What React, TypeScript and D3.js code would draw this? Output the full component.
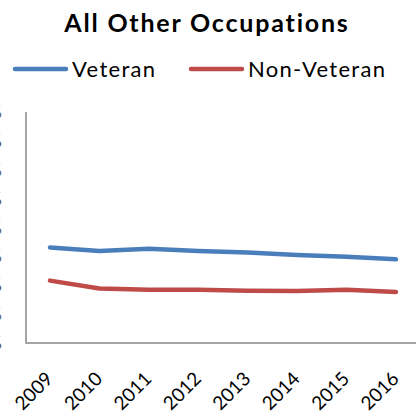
import * as d3 from 'd3';
import { useEffect, useRef } from 'react';

const years = ['2009', '2010', '2011', '2012', '2013', '2014', '2015', '2016'];
const veteran = [33.1, 31.9, 32.6, 31.9, 31.3, 30.5, 29.9, 29.0];
const nonVeteran = [21.6, 18.9, 18.4, 18.4, 18.1, 18.0, 18.4, 17.7];
const yTicks = [0, 10, 20, 30, 40, 50, 60, 70, 80];

const dimensions = {
  width: 416,
  height: 414,
};

const FONT = 'Lato, "Open Sans", sans-serif';

export default function App() {
  const svgRef = useRef(null);

  useEffect(() => {
    const svg = d3.select(svgRef.current);
    svg.selectAll('*').remove();

    const xScale = d3.scalePoint().domain(years).range([50, 396]);
    const yScale = d3.scaleLinear().domain([0, 80]).range([343, 112]);

    // Title
    svg
      .append('text')
      .attr('x', 207)
      .attr('y', 32)
      .attr('text-anchor', 'middle')
      .style('font-family', FONT)
      .style('font-weight', 'bold')
      .style('font-size', '25px')
      .style('letter-spacing', '1.8px')
      .style('fill', '#000')
      .text('All Other Occupations');

    // Legend
    const legend = [
      { name: 'Veteran', color: '#4A7EBB', x: 13 },
      { name: 'Non-Veteran', color: '#BE4B48', x: 189 },
    ];
    legend.forEach((l) => {
      svg
        .append('line')
        .attr('x1', l.x + 2)
        .attr('x2', l.x + 53)
        .attr('y1', 69)
        .attr('y2', 69)
        .style('stroke', l.color)
        .style('stroke-width', 4.5)
        .style('stroke-linecap', 'round');
      svg
        .append('text')
        .attr('x', l.x + 59)
        .attr('y', 77)
        .style('font-family', FONT)
        .style('font-size', '22px')
        .style('letter-spacing', '1.3px')
        .style('fill', '#000')
        .text(l.name);
    });

    // Y tick labels (cut off at the left edge)
    svg
      .append('g')
      .selectAll('text')
      .data(yTicks)
      .enter()
      .append('text')
      .attr('x', 2)
      .attr('y', (d) => yScale(d) + 6)
      .attr('text-anchor', 'end')
      .style('font-family', FONT)
      .style('font-size', '18px')
      .style('fill', '#595959')
      .text((d) => d + '%');

    // Axes
    svg
      .append('path')
      .attr('d', `M26,${yScale(80)}V${yScale(0)}H416`)
      .style('fill', 'none')
      .style('stroke', '#888')
      .style('stroke-width', 1.5);

    // X labels
    svg
      .append('g')
      .selectAll('text')
      .data(years)
      .enter()
      .append('text')
      .attr(
        'transform',
        (d) => `translate(${(xScale(d) as number) + 4},${380}) rotate(-45)`
      )
      .attr('text-anchor', 'end')
      .style('font-family', FONT)
      .style('font-size', '19px')
      .style('fill', '#000')
      .text((d) => d);

    const line = d3
      .line<number>()
      .x((_, i) => xScale(years[i]) as number)
      .y((d) => yScale(d));

    [
      { data: veteran, color: '#4A7EBB' },
      { data: nonVeteran, color: '#BE4B48' },
    ].forEach((s) => {
      svg
        .append('path')
        .datum(s.data)
        .attr('d', line as any)
        .style('fill', 'none')
        .style('stroke', s.color)
        .style('stroke-width', 4.5)
        .style('stroke-linecap', 'round')
        .style('stroke-linejoin', 'round');
    });
  }, []);

  return (
    <div>
      <svg
        ref={svgRef}
        width={dimensions.width}
        height={dimensions.height}
        style={{ position: 'absolute', left: 0, top: 0, background: '#fff' }}
      ></svg>
    </div>
  );
}
